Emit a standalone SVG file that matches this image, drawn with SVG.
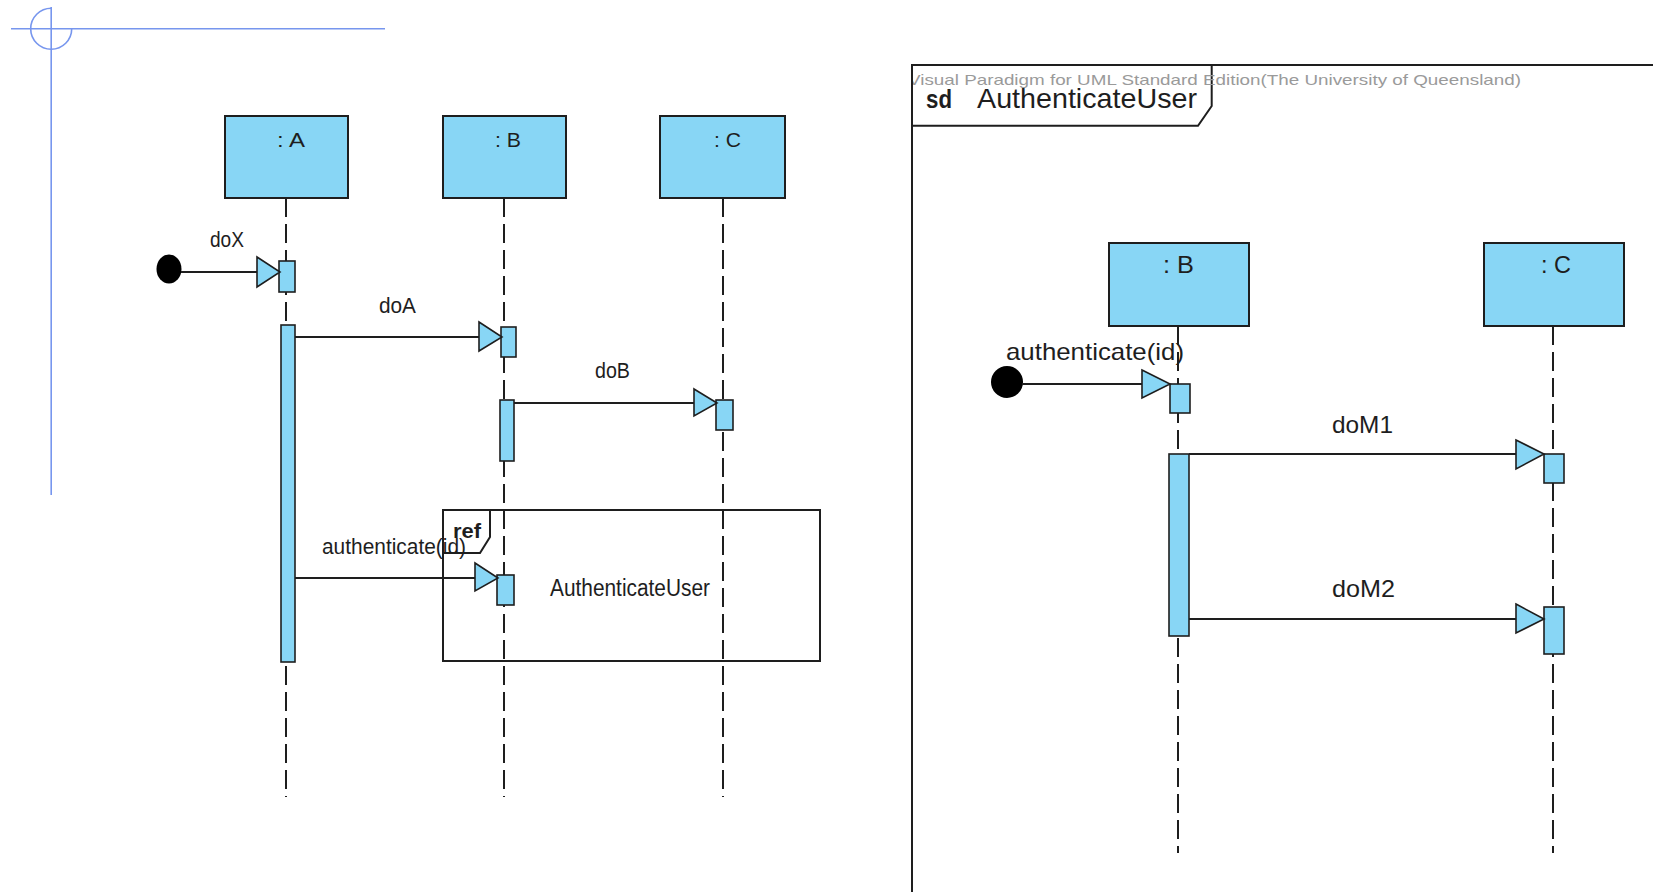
<svg xmlns="http://www.w3.org/2000/svg" width="1653" height="892" viewBox="0 0 1653 892">
  <defs>
    <style>
      .lbl { font-family: "Liberation Sans", Arial, sans-serif; fill: #1e1e1e; }
      .box { fill: #88D6F5; stroke: #1e1e1e; stroke-width: 2; }
      .act { fill: #88D6F5; stroke: #1e1e1e; stroke-width: 1.6; }
      .life { stroke: #1e1e1e; stroke-width: 2; stroke-dasharray: 19 7; fill: none; }
      .msg { stroke: #1e1e1e; stroke-width: 2; fill: none; }
      .head { fill: #88D6F5; stroke: #1e1e1e; stroke-width: 1.6; stroke-linejoin: miter; }
      .frame { fill: none; stroke: #1e1e1e; stroke-width: 2; }
      .guide { fill: none; stroke: #7796EE; stroke-width: 1.6; }
      .mark { fill: #9a9a9a; }
    </style>
    <clipPath id="sdClip">
      <rect x="913" y="60" width="740" height="40"/>
    </clipPath>
  </defs>
  <rect width="1653" height="892" fill="#ffffff"/>

  <!-- page origin guide -->
  <g id="origin-guide">
    <line class="guide" x1="11" y1="28.7" x2="385" y2="28.7"/>
    <line class="guide" x1="51.2" y1="7" x2="51.2" y2="495"/>
    <path class="guide" d="M51.2,8.2 A20.5,20.5 0 1 0 71.7,28.7"/>
  </g>

  <!-- ===== main interaction ===== -->
  <g id="ref-authenticate">
    <rect class="frame" x="443" y="510" width="377" height="151"/>
    <path class="frame" d="M443,553 L480,553 L490,537 L490,510"/>
    <text class="lbl" x="453" y="538" font-size="20" font-weight="bold" textLength="28" lengthAdjust="spacingAndGlyphs">ref</text>
    <text class="lbl" x="550" y="596" font-size="23" textLength="160" lengthAdjust="spacingAndGlyphs">AuthenticateUser</text>
  </g>

  <g id="lifeline-A">
    <line class="life" x1="286" y1="198" x2="286" y2="797"/>
    <rect class="box" x="225" y="116" width="123" height="82"/>
    <text class="lbl" x="277" y="147" font-size="21" textLength="28" lengthAdjust="spacingAndGlyphs">: A</text>
    <rect class="act" x="279" y="261" width="16" height="31"/>
    <rect class="act" x="281" y="325" width="14" height="337"/>
  </g>

  <g id="lifeline-B">
    <line class="life" x1="504" y1="198" x2="504" y2="797"/>
    <rect class="box" x="443" y="116" width="123" height="82"/>
    <text class="lbl" x="495" y="147" font-size="21" textLength="26" lengthAdjust="spacingAndGlyphs">: B</text>
    <rect class="act" x="501" y="327" width="15" height="30"/>
    <rect class="act" x="500" y="400" width="14" height="61"/>
    <rect class="act" x="497" y="575" width="17" height="30"/>
  </g>

  <g id="lifeline-C">
    <line class="life" x1="723" y1="198" x2="723" y2="797"/>
    <rect class="box" x="660" y="116" width="125" height="82"/>
    <text class="lbl" x="714" y="147" font-size="21" textLength="27" lengthAdjust="spacingAndGlyphs">: C</text>
    <rect class="act" x="716" y="400" width="17" height="30"/>
  </g>

  <g id="found-doX">
    <ellipse cx="169" cy="269" rx="12.5" ry="14.5" fill="#000000"/>
  </g>

  <g id="messages-main">
    <line class="msg" x1="181" y1="272" x2="257" y2="272"/>
    <polygon class="head" points="257,257 280,272 257,287"/>
    <text class="lbl" x="210" y="247" font-size="22" textLength="34" lengthAdjust="spacingAndGlyphs">doX</text>

    <line class="msg" x1="295" y1="337" x2="479" y2="337"/>
    <polygon class="head" points="479,322 502,337 479,351"/>
    <text class="lbl" x="379" y="313" font-size="22" textLength="37" lengthAdjust="spacingAndGlyphs">doA</text>

    <line class="msg" x1="514" y1="403" x2="694" y2="403"/>
    <polygon class="head" points="694,389 717,403 694,416"/>
    <text class="lbl" x="595" y="378" font-size="22" textLength="35" lengthAdjust="spacingAndGlyphs">doB</text>

    <line class="msg" x1="295" y1="578" x2="475" y2="578"/>
    <polygon class="head" points="475,563 498,578 475,591"/>
    <text class="lbl" x="322" y="554" font-size="22" textLength="144" lengthAdjust="spacingAndGlyphs">authenticate(id)</text>
  </g>

  <!-- ===== sd AuthenticateUser ===== -->
  <g id="sd-frame">
    <path class="frame" d="M1653,65 L912,65 L912,892"/>
    <path class="frame" d="M912,125.7 L1198,125.7 L1211.7,106 L1211.7,65"/>
    <text class="lbl mark" x="908" y="85" font-size="15" textLength="613" lengthAdjust="spacingAndGlyphs" clip-path="url(#sdClip)">Visual Paradigm for UML Standard Edition(The University of Queensland)</text>
    <text class="lbl" x="926" y="108" font-size="25" font-weight="bold" textLength="26" lengthAdjust="spacingAndGlyphs">sd</text>
    <text class="lbl" x="977" y="108" font-size="28" textLength="220" lengthAdjust="spacingAndGlyphs">AuthenticateUser</text>
  </g>

  <g id="sd-lifeline-B">
    <line class="life" x1="1178" y1="326" x2="1178" y2="853"/>
    <rect class="box" x="1109" y="243" width="140" height="83"/>
    <text class="lbl" x="1163" y="273" font-size="23" textLength="31" lengthAdjust="spacingAndGlyphs">: B</text>
    <rect class="act" x="1170" y="384" width="20" height="29"/>
    <rect class="act" x="1169" y="454" width="20" height="182"/>
  </g>

  <g id="sd-lifeline-C">
    <line class="life" x1="1553" y1="326" x2="1553" y2="853"/>
    <rect class="box" x="1484" y="243" width="140" height="83"/>
    <text class="lbl" x="1541" y="273" font-size="23" textLength="30" lengthAdjust="spacingAndGlyphs">: C</text>
    <rect class="act" x="1544" y="454" width="20" height="29"/>
    <rect class="act" x="1544" y="607" width="20" height="47"/>
  </g>

  <g id="sd-found-authenticate">
    <circle cx="1007" cy="382" r="16" fill="#000000"/>
  </g>

  <g id="messages-sd">
    <line class="msg" x1="1022" y1="384" x2="1142" y2="384"/>
    <polygon class="head" points="1142,370 1170,384 1142,398"/>
    <text class="lbl" x="1006" y="360" font-size="24" textLength="178" lengthAdjust="spacingAndGlyphs">authenticate(id)</text>

    <line class="msg" x1="1189" y1="454" x2="1516" y2="454"/>
    <polygon class="head" points="1516,440 1544,454 1516,469"/>
    <text class="lbl" x="1332" y="433" font-size="24" textLength="61" lengthAdjust="spacingAndGlyphs">doM1</text>

    <line class="msg" x1="1189" y1="619" x2="1516" y2="619"/>
    <polygon class="head" points="1516,604 1544,619 1516,633"/>
    <text class="lbl" x="1332" y="597" font-size="24" textLength="63" lengthAdjust="spacingAndGlyphs">doM2</text>
  </g>
</svg>
